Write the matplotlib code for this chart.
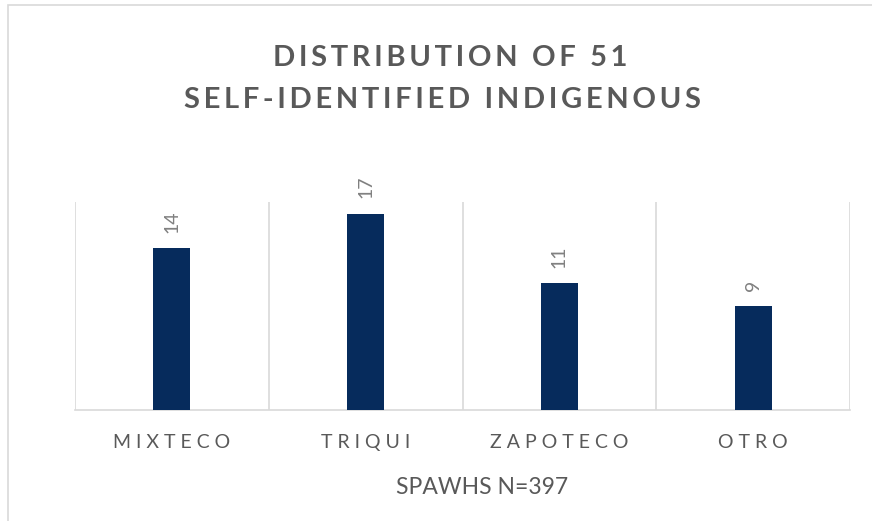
import matplotlib.pyplot as plt
from matplotlib.patches import Rectangle

# data
categories = ["MIXTECO", "TRIQUI", "ZAPOTECO", "OTRO"]
counts = [14, 17, 11, 9]
title_lines = ["DISTRIBUTION OF 51", "SELF-IDENTIFIED INDIGENOUS"]
x_title = "SPAWHS N=397"

bar_color = "#062B5C"
text_grey = "#595959"
grid_grey = "#D9D9D9"

plt.rcParams["font.family"] = ["Lato", "DejaVu Sans"]


def spaced(s, gap="\u2009"):
    # fake letter spacing
    return gap.join(s)


fig = plt.figure(figsize=(8.72, 5.21), dpi=100)
ax = fig.add_axes([75 / 872, 111 / 521, 775 / 872, 208 / 521])

# chart border (left/top visible)
fig.patches.append(Rectangle((8 / 872, -0.1), 1.2, 1.1 - 5 / 521,
                             transform=fig.transFigure, fill=False,
                             edgecolor="#D9D9D9", linewidth=1.2))

xs = range(len(categories))
ax.bar(xs, counts, width=0.19, color=bar_color, zorder=3)

for x, v in zip(xs, counts):
    ax.annotate(str(v), (x, v), xytext=(0, 11), textcoords="offset points",
                rotation=90, ha="center", va="bottom", color="#808080",
                fontsize=14)

ax.set_xlim(-0.5, len(categories) - 0.5)
ax.set_ylim(0, 18)

# category separators
for b in [i - 0.5 for i in range(len(categories) + 1)]:
    ax.axvline(b, color=grid_grey, linewidth=1.2, zorder=1)

for s in ["top", "left", "right"]:
    ax.spines[s].set_visible(False)
ax.spines["bottom"].set_color(grid_grey)
ax.spines["bottom"].set_linewidth(1.2)

ax.set_yticks([])
ax.set_xticks(list(xs))
ax.set_xticklabels([spaced(c, "\u2009\u200a\u200a") for c in categories],
                   fontsize=14, color=text_grey)
ax.tick_params(axis="x", length=0, pad=17)

ax.set_xlabel(x_title, fontsize=16.5, color=text_grey)
ax.xaxis.set_label_coords((482 - 75) / 775, -(487 - 410) / 208)
ax.xaxis.label.set_va("center")

fig.text(0.516, 0.888, spaced(title_lines[0], "\u2009"), ha="center", va="center",
         fontsize=21, fontweight="bold", color=text_grey)
fig.text(0.508, 0.808, spaced(title_lines[1], "\u2009"), ha="center", va="center",
         fontsize=21, fontweight="bold", color=text_grey)

fig.savefig("out.png", dpi=100)
